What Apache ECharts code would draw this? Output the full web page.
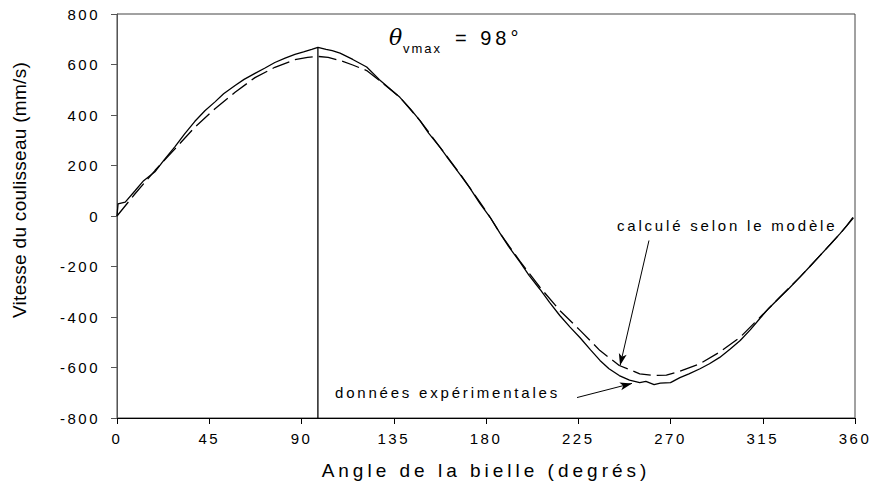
<!DOCTYPE html>
<html><head><meta charset="utf-8">
<script src="https://cdn.jsdelivr.net/npm/echarts@6/dist/echarts.min.js"></script>
<style>html,body{margin:0;padding:0;background:#fff}#c{width:875px;height:492px}</style>
</head><body><div id="c"></div>
<script>
// Experimental data: [angle (deg), velocity (mm/s)]
var experimental = [[0,0],[0.5,48],[4,55],[8.8,100],[13,140],[18.5,175],[23,222],[28.3,275],[33,325],[38,375],[43,418],[47.8,452],[52,484],[57.6,517],[62,541],[67.3,565],[72,585],[77,608],[82,625],[86.8,640],[91,650],[95,660],[98,668],[102,660],[105,655],[108.8,645],[115,620],[121.8,590],[128,540],[133,505],[138,470],[143,425],[147.8,378],[152,328],[157.6,272],[162,222],[167.3,165],[172,112],[177,50],[182,-5],[186.8,-68],[191,-120],[196.6,-183],[201,-235],[206.3,-290],[211,-342],[216,-394],[221,-440],[225.9,-482],[231,-530],[235.6,-572],[240,-605],[245,-632],[250,-650],[255,-660],[258,-655],[262,-668],[265,-662],[270,-660],[274.6,-640],[279,-625],[284.4,-605],[289,-585],[294,-560],[299,-528],[304,-493],[309,-450],[313.7,-405],[318,-365],[323.4,-322],[328,-285],[333,-243],[338,-200],[343,-156],[348,-112],[352.7,-70],[356,-38],[359,-5]];
// Model (calculated) data
var model = [[0,0],[8.8,88],[18.5,180],[28.3,266],[38,352],[47.8,425],[57.6,490],[67.3,548],[77,589],[86.8,619],[93,628],[98,632],[103,628],[108.8,616],[115,598],[121.8,576],[128,537],[138,470],[147.8,378],[157.6,272],[167.3,167],[177,55],[182,-5],[186.8,-68],[196.6,-180],[206.3,-282],[216,-374],[225.9,-453],[235.6,-533],[245,-592],[255,-625],[262,-632],[268,-630],[274.6,-615],[284.4,-585],[294,-539],[304,-480],[313.7,-401],[323.4,-321],[333,-243],[343,-156],[352.7,-70],[360,0]];
// Vertical marker at theta_vmax
var vmaxLine = [[98,-800],[98,668]];
// Annotation arrows [from, to] in data coordinates
var arrowModel = [[259.5,-97],[245.4,-592]];
var arrowExp = [[224.4,-719],[251.2,-663]];
var xTicks = [0,45,90,135,180,225,270,315,360];
var yTicks = [-800,-600,-400,-200,0,200,400,600,800];

var FONT = 'Liberation Sans, Arial, sans-serif';
var chart = echarts.init(document.getElementById('c'), null, {renderer:'svg'});
chart.setOption({
  animation: false,
  grid: {left:117, right:20, top:14, bottom:74, show:true, borderColor:'#444', borderWidth:1},
  xAxis: {type:'value', min:xTicks[0], max:xTicks[xTicks.length-1], interval:45,
    name:'Angle de la bielle (degrés)', nameLocation:'middle', nameGap:43,
    nameTextStyle:{fontFamily:FONT, fontSize:19, color:'#000'},
    axisLine:{onZero:false, lineStyle:{color:'#000', width:1}}, axisTick:{length:6, lineStyle:{color:'#000'}},
    axisLabel:{fontFamily:FONT, fontSize:15, color:'#000', margin:13}, splitLine:{show:false}},
  yAxis: {type:'value', min:yTicks[0], max:yTicks[yTicks.length-1], interval:200,
    axisLine:{onZero:false, lineStyle:{color:'#555', width:1}}, axisTick:{length:6, lineStyle:{color:'#555'}},
    axisLabel:{fontFamily:FONT, fontSize:15, color:'#000', margin:17}, splitLine:{show:false}},
  series: [
    {type:'line', data:model, showSymbol:false, lineStyle:{color:'#000', width:1.3, type:[18,6]}, z:2},
    {type:'line', data:experimental, showSymbol:false, lineStyle:{color:'#000', width:1.3}, z:3},
    {type:'line', data:vmaxLine, showSymbol:false, lineStyle:{color:'#000', width:1.3}, z:3},
    {type:'line', data:[], markLine:{silent:true, symbol:['none','arrow'], symbolSize:[6,12],
      lineStyle:{color:'#000', width:1, type:'solid'}, label:{show:false},
      data:[[{coord:arrowModel[0]},{coord:arrowModel[1]}],[{coord:arrowExp[0]},{coord:arrowExp[1]}]]}}
  ],
  graphic: [
    {type:'text', x:19, y:190, rotation:Math.PI/2, style:{text:'Vitesse du coulisseau (mm/s)', font:'19px Liberation Sans', fill:'#000', align:'center', verticalAlign:'middle'}},
    {type:'text', left:389, top:26, style:{text:'θ', font:'italic 22px DejaVu Serif', fill:'#000'}},
    {type:'text', left:403, top:42, style:{text:'vmax', font:'13px Liberation Sans', fill:'#000'}},
    {type:'text', left:455, top:28, style:{text:'= 98°', font:'20px Liberation Sans', fill:'#000'}},
    {type:'text', left:617, top:218, style:{text:'calculé selon le modèle', font:'15px Liberation Sans', fill:'#000'}},
    {type:'text', left:335, top:385, style:{text:'données expérimentales', font:'15px Liberation Sans', fill:'#000'}}
  ]
});
function spacing(){
  var texts = document.querySelectorAll('#c svg text');
  texts.forEach(function(t){
    var s = t.textContent;
    var ls = 0;
    if (/^-?\d+$/.test(s)) ls = 2.5;
    else if (s.indexOf('Angle') === 0) ls = 4;
    else if (s.indexOf('Vitesse') === 0) ls = 0.3;
    else if (s === 'calculé selon le modèle' || s === 'données expérimentales') ls = 2.8;
    else if (s === 'vmax') ls = 2;
    else if (s === '= 98°') ls = 4;
    if (ls) t.style.letterSpacing = ls + 'px';
  });
}
spacing();
chart.on('finished', spacing);
setTimeout(spacing, 50);
</script></body></html>
